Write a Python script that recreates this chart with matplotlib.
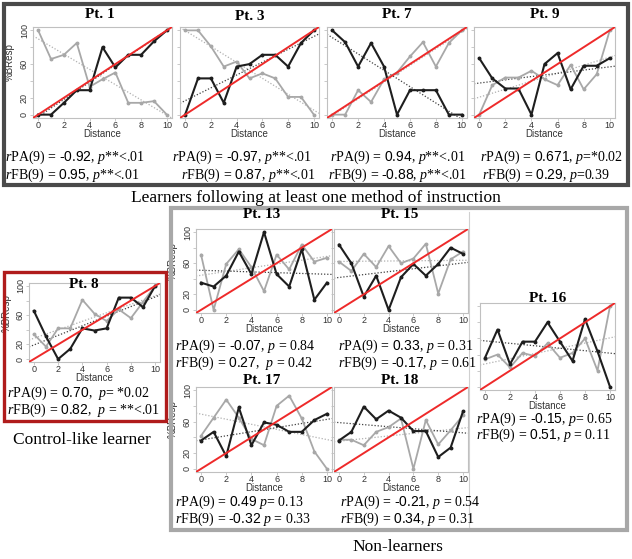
import numpy as np
import matplotlib
matplotlib.use("Agg")
import matplotlib.pyplot as plt
from matplotlib.patches import Rectangle
from matplotlib.lines import Line2D

plt.rcParams['mathtext.fontset'] = 'custom'
plt.rcParams['mathtext.rm'] = 'Liberation Serif'
plt.rcParams['mathtext.it'] = 'Liberation Serif:italic'
plt.rcParams['mathtext.sf'] = 'Liberation Sans'

W, H = 632, 559
distance = list(range(11))

# ---- data ----
pt1_pa = [0, 0, 14, 29, 29, 80, 56, 71, 71, 87, 100]
pt1_fb = [100, 66, 71, 85, 33, 42, 50, 14, 14, 16, 0]
pt3_pa = [0, 43, 43, 14, 57, 60, 71, 71, 57, 85, 100]
pt3_fb = [100, 100, 81, 57, 63, 43, 49, 43, 21, 21, 0]
pt7_pa = [100, 86, 57, 85, 57, 0, 29, 29, 29, 0, 0]
pt7_fb = [0, 0, 29, 15, 42, 50, 69, 86, 57, 85, 100]
pt9_pa = [67, 43, 31, 31, 0, 60, 73, 30, 58, 58, 67]
pt9_fb = [0, 35, 44, 44, 52, 42, 35, 59, 30, 48, 100]
pt8_pa = [66, 31, 0, 14, 42, 39, 42, 84, 84, 71, 100]
pt8_fb = [34, 17, 42, 42, 81, 62, 52, 68, 56, 78, 100]
pt13_pa = [35, 30, 44, 75, 46, 100, 46, 30, 78, 13, 35]
pt13_fb = [71, 0, 59, 78, 55, 24, 71, 52, 84, 62, 67]
pt15_pa = [84, 60, 17, 44, 0, 42, 59, 44, 59, 80, 72]
pt15_fb = [62, 50, 72, 55, 82, 60, 66, 85, 21, 65, 75]
pt16_pa = [36, 71, 28, 56, 56, 80, 56, 32, 84, 44, 0]
pt16_fb = [34, 40, 24, 42, 38, 54, 36, 42, 60, 20, 100]
pt17_pa = [36, 47, 16, 78, 30, 59, 56, 47, 47, 62, 70]
pt17_fb = [42, 65, 88, 65, 38, 30, 80, 93, 64, 22, 0]
pt18_pa = [36, 47, 79, 63, 74, 65, 48, 48, 15, 27, 73]
pt18_fb = [37, 37, 30, 47, 53, 64, 0, 62, 31, 49, 68]

titles = ["Pt. 1", "Pt. 3", "Pt. 7", "Pt. 9", "Pt. 8", "Pt. 13", "Pt. 15", "Pt. 16", "Pt. 17", "Pt. 18"]
pa_series = [pt1_pa, pt3_pa, pt7_pa, pt9_pa, pt8_pa, pt13_pa, pt15_pa, pt16_pa, pt17_pa, pt18_pa]
fb_series = [pt1_fb, pt3_fb, pt7_fb, pt9_fb, pt8_fb, pt13_fb, pt15_fb, pt16_fb, pt17_fb, pt18_fb]

stats_pa = [("-0.92", ", ", "$p$**<.01"), ("-0.97", ", ", "$p$**<.01"), ("0.94", ", ", "$p$**<.01"),
            ("0.671", ", ", "$p$=*0.02"), ("0.70", ",  ", "$p$= *0.02"), ("-0.07", ", ", "$p$ = 0.84"),
            ("0.33", ", ", "$p$ = 0.31"), ("-0.15", ", ", "$p$= 0.65"), ("0.49", " ", "$p$= 0.13"),
            ("-0.21", ", ", "$p$ = 0.54")]
stats_fb = [("0.95", ", ", "$p$**<.01"), ("0.87", ", ", "$p$**<.01"), ("-0.88", ", ", "$p$**<.01"),
            ("0.29", ", ", "$p$=0.39"), ("0.82", ",  ", "$p$ = **<.01"), ("0.27", ",  ", "$p$ = 0.42"),
            ("-0.17", ", ", "$p$ = 0.61"), ("0.51", ", ", "$p$ = 0.11"), ("-0.32", " ", "$p$ = 0.33"),
            ("0.34", ", ", "$p$ = 0.31")]
ytick_values = [0, 20, 40, 60, 80, 100]
ytick_labels = ["0", "20", "", "60", "", "100"]
xtick_values = [0, 2, 4, 6, 8, 10]

# ---- layout (pixels: left, right, top, bottom) ----
boxes = [(33, 172, 27, 118), (180, 319, 27, 118), (327, 467, 27, 118), (474, 615, 27, 118),
         (29, 160, 283, 362), (196, 332, 229, 313), (334, 468, 229, 313), (480, 615, 303, 390),
         (196, 332, 387, 472), (334, 468, 387, 472)]
title_pos = [(100, 15), (250, 16), (397, 15), (545, 15), (84, 284), (262, 215), (400, 215),
             (548, 298), (262, 381), (400, 381)]
text_pos = [((5, 157), (5, 175)), ((172, 157), (181, 175)), ((330, 157), (328, 175)), ((480, 157), (482, 175)),
            ((7, 393), (7, 410)), ((175, 346), (175, 363)), ((338, 346), (338, 363)),
            ((476, 419), (476, 435)), ((175, 502), (175, 519)), ((340, 502), (340, 519))]
dist_off = 16
ylab_panels = {0, 4, 5, 8}

fig = plt.figure(figsize=(W / 100, H / 100), dpi=100)
fig.patch.set_facecolor('white')

def fx(x):
    return x / W

def fy(y):
    return 1 - y / H

def num(v):
    return v.replace('-', '\u2010')

for i in range(10):
    l, r, t, b = boxes[i]
    ax = fig.add_axes([fx(l), fy(b), (r - l) / W, (b - t) / H])
    ax.set_xlim(-0.4, 10.4)
    ax.set_ylim(-4, 104)
    pa = np.array(pa_series[i], float)
    fb = np.array(fb_series[i], float)
    xs = np.array(distance, float)
    xx = np.array([-0.4, 10.4])
    cf = np.polyfit(xs, fb, 1)
    ax.plot(xx, np.polyval(cf, xx), ls=(0, (1, 1.5)), color='#b0b0b0', lw=0.9, zorder=1)
    cp = np.polyfit(xs, pa, 1)
    ax.plot(xx, np.polyval(cp, xx), ls=(0, (1, 1.5)), color='#404040', lw=0.9, zorder=1)
    ax.plot(xs, fb, color='#a8a8a8', lw=1.3, marker='o', ms=1.8, zorder=2)
    ax.plot(xs, pa, color='#1e1e1e', lw=1.5, marker='o', ms=1.8, zorder=3)
    ax.axline((0, 0), (10, 100), color='#ee2a2a', lw=1.4, zorder=4)
    for s in ax.spines.values():
        s.set_color('#c0c0c0')
        s.set_linewidth(0.8)
    ax.set_xticks(xtick_values)
    ax.set_xticklabels([str(v) for v in xtick_values], fontsize=6.5, color='#333333',
                       family='Liberation Sans')
    ax.tick_params(axis='x', length=2, width=0.6, color='#c0c0c0', pad=0)
    ax.set_yticks(ytick_values)
    if i in ylab_panels:
        ax.set_yticklabels(ytick_labels, fontsize=6.5, color='#333333', rotation=90,
                           va='center', family='Liberation Sans')
        ax.tick_params(axis='y', length=2, width=0.6, color='#c0c0c0', pad=1)
        ax.text(-0.17, 0.62, "%BResp", rotation=90, transform=ax.transAxes, ha='center',
                va='center', fontsize=7, color='#333333', family='Liberation Sans')
    else:
        ax.set_yticklabels([])
        ax.tick_params(axis='y', length=2, width=0.6, color='#c0c0c0')
    fig.text(fx((l + r) / 2), fy(b + dist_off), "Distance", ha='center', va='center',
             fontsize=7, color='#333333', family='Liberation Sans')

    tx, ty = title_pos[i]
    fig.text(fx(tx), fy(ty), titles[i], ha='center', va='center', fontsize=11,
             fontweight='bold', family='Liberation Serif', zorder=10)
    (ax1, ay1), (ax2, ay2) = text_pos[i]
    v, sep, ptxt = stats_pa[i]
    fig.text(fx(ax1), fy(ay1), "$r$PA(9) = $\\mathsf{" + num(v) + "}$" + sep + ptxt,
             ha='left', va='center', fontsize=10, family='Liberation Serif')
    v, sep, ptxt = stats_fb[i]
    fig.text(fx(ax2), fy(ay2), "$r$FB(9) = $\\mathsf{" + num(v) + "}$" + sep + ptxt,
             ha='left', va='center', fontsize=10, family='Liberation Serif')

# frames
def rect(l, t, r, b, color, lw):
    fig.add_artist(Rectangle((fx(l), fy(b)), (r - l) / W, (b - t) / H, fill=False,
                             edgecolor=color, linewidth=lw, transform=fig.transFigure))

rect(4, 4, 628, 185, '#4a4a4a', 3.0)
rect(4, 272, 166, 421, '#b01c1c', 2.4)
rect(171, 208, 627, 530, '#a8a8a8', 3.0)
fig.add_artist(Line2D([fx(469), fx(469)], [fy(212), fy(527)], color='#d0d0d0', lw=0.8,
                      transform=fig.transFigure))

fig.text(fx(316), fy(198), "Learners following at least one method of instruction",
         ha='center', va='center', fontsize=12.5, family='Liberation Serif')
fig.text(fx(82), fy(440), "Control-like learner", ha='center', va='center', fontsize=12.5,
         family='Liberation Serif')
fig.text(fx(398), fy(547), "Non-learners", ha='center', va='center', fontsize=12.5,
         family='Liberation Serif')

fig.savefig("out.png", dpi=100, facecolor='white')
